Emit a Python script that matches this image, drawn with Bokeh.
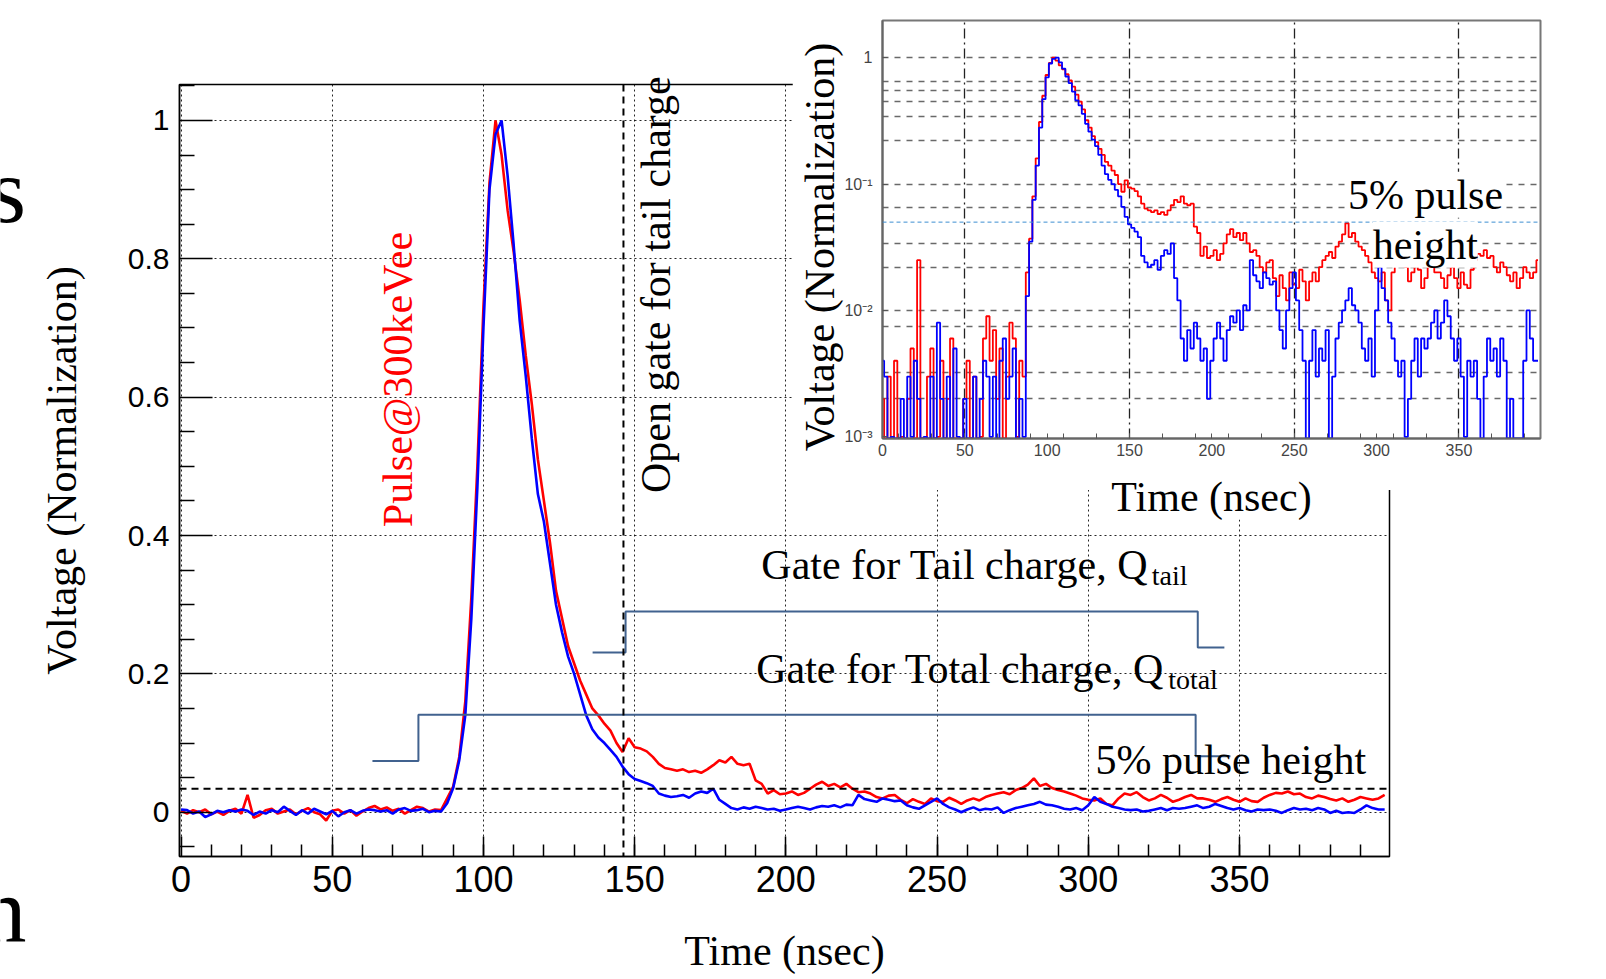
import numpy as np
from math import pi
from bokeh.plotting import figure
from bokeh.models import Range1d, FixedTicker, CustomJSTickFormatter, Span, Label
from bokeh.embed import file_html
from bokeh.resources import INLINE

# ---------------- data ----------------
time_ns = list(range(0, 400, 2))

red_pulse = [
    0.002, -0.002, 0.003, 0.000, 0.004, -0.003, 0.001, -0.004, 0.002, 0.005,
    -0.002, 0.025, -0.008, -0.004, 0.003, 0.005, -0.002, 0.001, 0.004, -0.003,
    0.002, 0.006, 0.000, -0.003, -0.012, 0.002, 0.004, -0.002, 0.003, -0.005,
    0.001, 0.006, 0.009, 0.004, 0.007, 0.002, 0.005, -0.002, 0.003, 0.008,
    0.006, 0.001, 0.004, 0.003, 0.020, 0.037, 0.080, 0.160, 0.310, 0.500,
    0.730, 0.910, 1.000, 0.950, 0.870, 0.810, 0.740, 0.660, 0.590, 0.510,
    0.450, 0.390, 0.320, 0.280, 0.240, 0.215, 0.190, 0.170, 0.150, 0.140,
    0.128, 0.118, 0.100, 0.087, 0.107, 0.094, 0.092, 0.088, 0.080, 0.070,
    0.064, 0.062, 0.060, 0.062, 0.058, 0.060, 0.057, 0.062, 0.068, 0.075,
    0.072, 0.080, 0.070, 0.068, 0.070, 0.046, 0.041, 0.027, 0.032, 0.026,
    0.027, 0.030, 0.025, 0.028, 0.034, 0.040, 0.044, 0.038, 0.041, 0.036,
    0.041, 0.034, 0.029, 0.030, 0.027, 0.022, 0.020, 0.024, 0.025, 0.018,
    0.013, 0.019, 0.015, 0.012, 0.020, 0.016, 0.015, 0.021, 0.017, 0.012,
    0.017, 0.020, 0.017, 0.022, 0.025, 0.027, 0.029, 0.026, 0.032, 0.035,
    0.040, 0.049, 0.038, 0.041, 0.035, 0.032, 0.030, 0.027, 0.024, 0.020,
    0.018, 0.017, 0.020, 0.012, 0.010, 0.020, 0.027, 0.025, 0.029, 0.022,
    0.017, 0.020, 0.025, 0.021, 0.015, 0.018, 0.022, 0.025, 0.020, 0.020,
    0.018, 0.015, 0.019, 0.022, 0.018, 0.015, 0.020, 0.016, 0.015, 0.021,
    0.025, 0.028, 0.027, 0.030, 0.026, 0.027, 0.022, 0.020, 0.024, 0.022,
    0.019, 0.017, 0.020, 0.015, 0.018, 0.022, 0.020, 0.018, 0.020, 0.025,
]

blue_pulse = [
    0.004, 0.003, -0.002, 0.001, -0.007, -0.003, 0.002, 0.000, 0.003, 0.001,
    0.004, 0.002, -0.004, 0.001, -0.002, 0.003, 0.000, 0.008, 0.002, -0.004,
    0.003, -0.002, 0.005, 0.001, -0.003, 0.002, -0.006, 0.000, 0.003, -0.002,
    0.002, 0.004, 0.003, 0.001, 0.003, -0.002, 0.004, 0.006, 0.002, 0.003,
    0.005, 0.000, 0.002, 0.001, 0.013, 0.035, 0.075, 0.140, 0.280, 0.470,
    0.700, 0.900, 0.980, 1.000, 0.920, 0.820, 0.710, 0.630, 0.540, 0.460,
    0.420, 0.360, 0.300, 0.260, 0.225, 0.200, 0.170, 0.140, 0.120, 0.108,
    0.100, 0.090, 0.080, 0.066, 0.055, 0.048, 0.045, 0.042, 0.038, 0.027,
    0.024, 0.022, 0.023, 0.025, 0.021, 0.027, 0.030, 0.028, 0.034, 0.018,
    0.012, 0.006, 0.004, 0.007, 0.005, 0.008, 0.006, 0.004, 0.005, 0.002,
    0.004, 0.006, 0.008, 0.006, 0.004, 0.007, 0.009, 0.008, 0.010, 0.007,
    0.011, 0.010, 0.025, 0.019, 0.017, 0.015, 0.020, 0.018, 0.016, 0.017,
    0.010, 0.007, 0.005, 0.010, 0.015, 0.020, 0.012, 0.007, 0.004, 0.000,
    0.004, 0.007, 0.003, 0.005, 0.004, 0.007, -0.001, 0.003, 0.006, 0.008,
    0.010, 0.012, 0.015, 0.011, 0.010, 0.008, 0.005, 0.004, 0.006, 0.003,
    0.010, 0.022, 0.015, 0.012, 0.008, 0.006, 0.004, 0.003, 0.004, 0.001,
    0.002, 0.004, 0.006, 0.003, 0.006, 0.005, 0.006, 0.008, 0.010, 0.006,
    0.008, 0.012, 0.009, 0.006, 0.004, 0.006, 0.003, 0.001, 0.004, 0.003,
    0.004, 0.002, -0.001, 0.003, 0.006, 0.004, 0.005, 0.003, 0.006, 0.004,
    -0.001, 0.002, -0.001, 0.000, -0.001, 0.004, 0.010, 0.006, 0.004, 0.004,
]

# gate outlines (time, level)
tail_gate_t = [136.1, 147.0, 147.0, 336.2, 336.2, 345.0]
tail_gate_v = [0.231, 0.231, 0.290, 0.290, 0.238, 0.238]
total_gate_t = [63.3, 78.5, 78.5, 335.5, 335.5, 347.0]
total_gate_v = [0.074, 0.074, 0.141, 0.141, 0.081, 0.081]

threshold_level = 0.034      # 5% pulse height line (main)
inset_threshold = 0.05       # 5% line (inset)
tail_gate_open = 146.3       # open gate for tail charge

x_major = [0, 50, 100, 150, 200, 250, 300, 350]
x_minor = [t for t in range(10, 400, 10)]
y_major = [0, 0.2, 0.4, 0.6, 0.8, 1.0]
y_minor = [-0.05, 0.05, 0.1, 0.15, 0.25, 0.3, 0.35, 0.45, 0.5, 0.55,
           0.65, 0.7, 0.75, 0.85, 0.9, 0.95, 1.05]

inset_y_major = [0.001, 0.01, 0.1, 1.0]
inset_y_grid = [0.002, 0.0032, 0.0075, 0.01, 0.022, 0.034, 0.065, 0.1,
                0.22, 0.34, 0.45, 0.55, 0.65, 1.0]
inset_x_grid = [50, 150, 250, 350]
inset_x_minor = [t for t in range(10, 400, 20)]

SERIF = "Liberation Serif"
SANS = "Liberation Sans"


def lab(fig, x, y, text, size, color="black", angle=0.0, align="left",
        baseline="alphabetic", font=SERIF, bg=None):
    l = Label(x=x, y=y, text=text, text_font=font, text_font_size=size,
              text_color=color, angle=angle, text_align=align,
              text_baseline=baseline)
    if bg is not None:
        l.background_fill_color = bg
    fig.add_layout(l)


# ---------------- main plot ----------------
p = figure(frame_width=1210, frame_height=772,
           min_border_left=179, min_border_right=217,
           min_border_top=84, min_border_bottom=123,
           x_range=Range1d(-0.5, 399.6), y_range=Range1d(-0.064, 1.052),
           output_backend="svg", toolbar_location=None)
p.background_fill_color = "white"
p.border_fill_color = "white"
p.outline_line_color = "black"
p.outline_line_width = 1.5

for ax in (p.xaxis[0], p.yaxis[0]):
    ax.axis_line_width = 1.5
    ax.axis_line_color = "black"
    ax.major_tick_out = 0
    ax.minor_tick_out = 0
    ax.major_tick_line_width = 1.5
    ax.minor_tick_line_width = 1.5
    ax.major_tick_line_color = "black"
    ax.minor_tick_line_color = "black"
    ax.major_label_text_font = SANS
    ax.major_label_text_color = "black"
    ax.axis_label_text_font = SERIF
    ax.axis_label_text_font_style = "normal"
    ax.axis_label_text_font_size = "42px"
    ax.axis_label_text_color = "black"

p.xaxis.ticker = FixedTicker(ticks=x_major, minor_ticks=x_minor)
p.xaxis.major_tick_in = 20
p.xaxis.minor_tick_in = 12
p.xaxis.major_label_text_font_size = "36px"
p.xaxis.major_label_standoff = 9
p.xaxis.axis_label = "Time (nsec)"
p.xaxis.axis_label_standoff = 33

p.yaxis.ticker = FixedTicker(ticks=y_major, minor_ticks=y_minor)
p.yaxis.formatter = CustomJSTickFormatter(
    code="return (Math.abs(tick) < 1e-9) ? '0' : (Math.abs(tick-1) < 1e-9 ? '1' : tick.toFixed(1));")
p.yaxis.major_tick_in = 33
p.yaxis.minor_tick_in = 15
p.yaxis.major_label_text_font_size = "30px"
p.yaxis.major_label_standoff = 10
p.yaxis.axis_label = "Voltage (Normalization)"
p.yaxis.axis_label_standoff = 40

for g in (p.xgrid[0], p.ygrid[0]):
    g.grid_line_color = "black"
    g.grid_line_dash = "2 3"
    g.grid_line_width = 1
    g.grid_line_alpha = 0.85

p.line(time_ns, red_pulse, line_color="#ff0000", line_width=2.6)
p.line(time_ns, blue_pulse, line_color="#0000ff", line_width=2.6)

gate_color = "#41628f"
p.line(tail_gate_t, tail_gate_v, line_color=gate_color, line_width=2)
p.line(total_gate_t, total_gate_v, line_color=gate_color, line_width=2)

p.add_layout(Span(location=threshold_level, dimension="width", line_color="black",
                  line_dash="7 5", line_width=2))
p.add_layout(Span(location=tail_gate_open, dimension="height", line_color="black",
                  line_dash="7 5", line_width=2))

lab(p, 71.7, 0.6255, "Pulse@300keVee", "42px", color="#ff0000", angle=pi / 2,
    align="center", baseline="middle")
lab(p, 191.9, 0.358, "Gate for Tail charge, Q", "42px")
lab(p, 321.0, 0.3415, "tail", "28px")
lab(p, 190.2, 0.2065, "Gate for Total charge, Q", "42px")
lab(p, 326.4, 0.192, "total", "28px")
lab(p, 302.4, 0.075, "5% pulse height", "42px")

# ---------------- inset (log scale) ----------------
inset = figure(frame_width=658, frame_height=418,
               min_border_left=90, min_border_right=66,
               min_border_top=20, min_border_bottom=52,
               x_range=Range1d(0, 399.5), y_range=Range1d(0.00097, 1.97),
               y_axis_type="log", output_backend="svg", toolbar_location=None)
inset.background_fill_color = "white"
inset.border_fill_color = "white"
inset.outline_line_color = "#777777"
inset.outline_line_width = 2

floor = 0.00097
red_log = np.clip(np.array(red_pulse), floor, None)
blue_log = np.clip(np.array(blue_pulse), floor, None)
inset.step(time_ns, red_log, mode="center", line_color="#ff0000", line_width=1.8)
inset.step(time_ns, blue_log, mode="center", line_color="#0000ff", line_width=1.8)

inset.add_layout(Span(location=inset_threshold, dimension="width",
                      line_color="#3d8fd1", line_dash="4 3", line_width=1))

for ax in (inset.xaxis[0], inset.yaxis[0]):
    ax.axis_line_color = "#666666"
    ax.axis_line_width = 2
    ax.major_tick_out = 0
    ax.minor_tick_out = 0
    ax.major_tick_in = 5
    ax.minor_tick_in = 5
    ax.major_tick_line_color = "#555555"
    ax.minor_tick_line_color = "#555555"
    ax.major_label_text_font = SANS
    ax.major_label_text_font_size = "16px"
    ax.major_label_text_color = "#444444"

inset.xaxis.ticker = FixedTicker(ticks=x_major, minor_ticks=inset_x_minor)
inset.xaxis.major_label_standoff = 5

inset.yaxis.ticker = FixedTicker(ticks=inset_y_major, minor_ticks=[])
inset.yaxis.formatter = CustomJSTickFormatter(code="""
    const sup = {'-': '\u207b', '0': '\u2070', '1': '\u00b9', '2': '\u00b2', '3': '\u00b3'};
    const e = Math.round(Math.log10(tick));
    if (e === 0) return '1';
    return '10' + String(e).split('').map(c => sup[c]).join('');
""")
inset.yaxis.major_label_standoff = 10

inset.xgrid.ticker = FixedTicker(ticks=inset_x_grid)
inset.xgrid.grid_line_color = "#222222"
inset.xgrid.grid_line_dash = "10 4 2 4"
inset.xgrid.grid_line_width = 1.3
inset.ygrid.ticker = FixedTicker(ticks=inset_y_grid)
inset.ygrid.grid_line_color = "#444444"
inset.ygrid.grid_line_dash = "6 6"
inset.ygrid.grid_line_width = 1.5
inset.ygrid.grid_line_alpha = 0.8

lab(inset, 282.6, 0.0823, "5% pulse", "42px", bg="white")
lab(inset, 297.7, 0.0331, "height", "42px", bg="white")

inset.styles = {"position": "absolute", "left": "792px", "top": "0px", "z-index": "5"}

# ---------------- free text layer (texts that cross frame edges) ----------------
txt = figure(frame_width=1606, frame_height=979, min_border=0,
             x_range=Range1d(0, 1606), y_range=Range1d(979, 0),
             x_axis_location=None, y_axis_location=None,
             output_backend="svg", toolbar_location=None)
txt.grid.visible = False
txt.outline_line_color = None
txt.background_fill_alpha = 0
txt.border_fill_alpha = 0
lab(txt, 655.5, 284.2, "Open gate for tail charge", "42px", angle=pi / 2,
    align="center", baseline="middle")
# inset axis titles
lab(txt, 819, 246.5, "Voltage (Normalization)", "42px", angle=pi / 2,
    align="center", baseline="middle")
lab(txt, 1211, 496, "Time (nsec)", "42px", align="center", baseline="middle",
    bg="white")
# cropped slide letters at the left edge of the picture
lab(txt, -11, 189, "s", "94px")
lab(txt, -21, 909, "n", "94px")
txt.styles = {"position": "absolute", "left": "0px", "top": "0px",
              "z-index": "10", "pointer-events": "none"}

open("out.html", "w").write(file_html([p, inset, txt], INLINE))
